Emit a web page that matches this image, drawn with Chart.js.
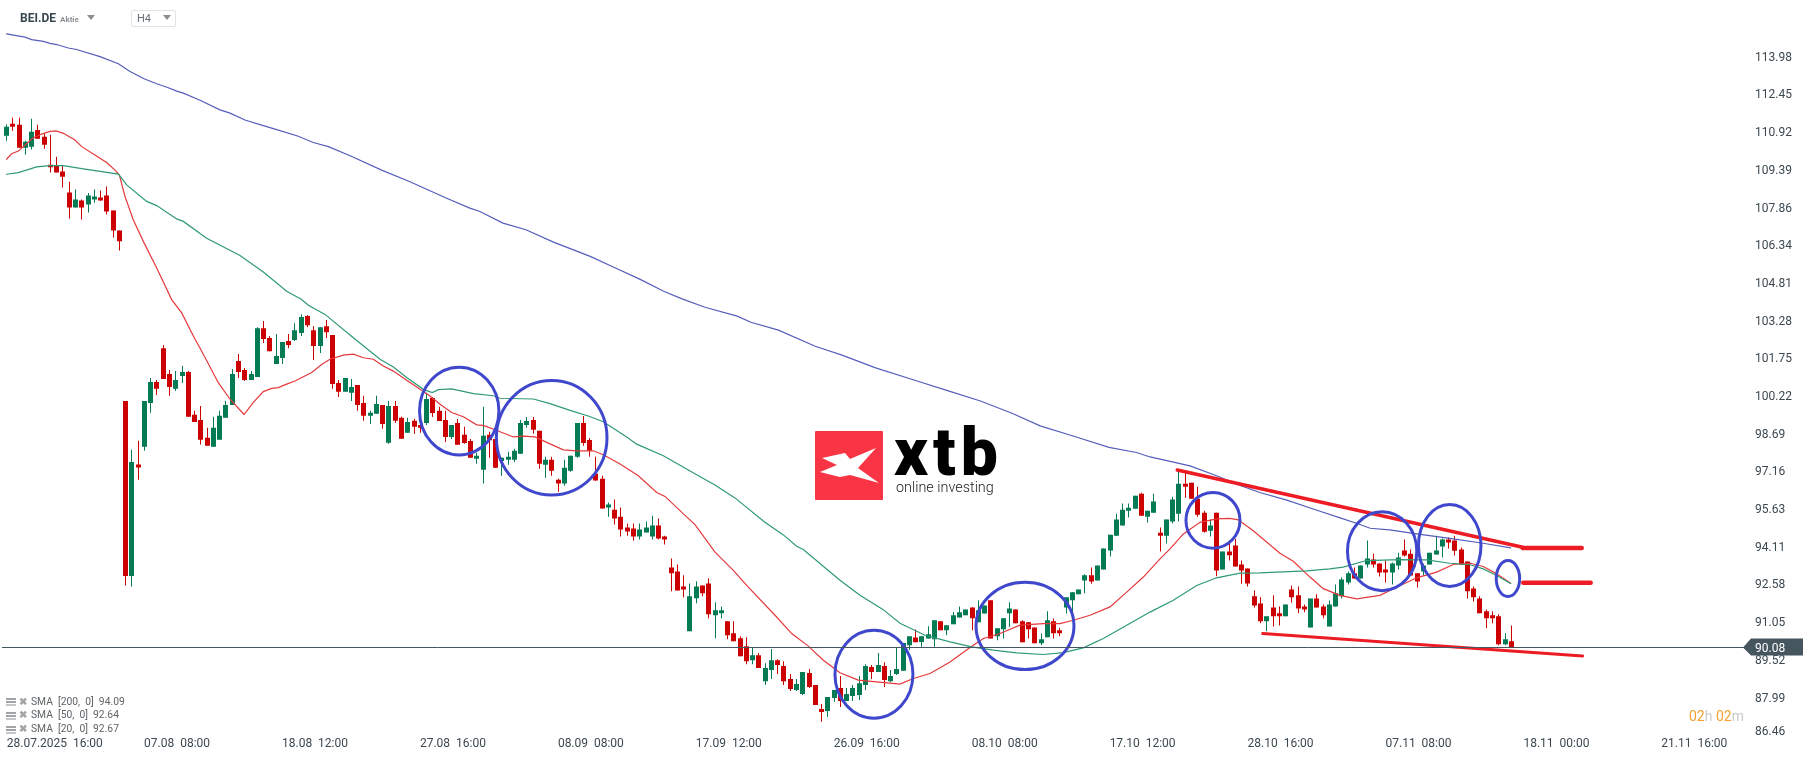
<!DOCTYPE html>
<html>
<head>
<meta charset="utf-8">
<title>BEI.DE H4</title>
<script src="https://cdn.jsdelivr.net/npm/chart.js@4/dist/chart.umd.min.js"></script>
<style>
    html, body { margin: 0; padding: 0; background: #fff; }
    #wrap { position: relative; width: 1815px; height: 761px; overflow: hidden; font-family: Roboto, sans-serif; }
    #wrap div, #wrap span { position: absolute; white-space: nowrap; }
    canvas { position: absolute; left: 0; top: 0; }
    .tri { width: 0; height: 0; border-left: 4.5px solid transparent; border-right: 4.5px solid transparent; border-top: 5px solid #8a8f93; }
    .sma { left: 31px; font-size: 10.3px; line-height: 12px; color: #5f6468; white-space: pre !important; }
    .ico { left: 6px; width: 10px; height: 2px; background: #a2a5a8; box-shadow: 0 3px 0 #a2a5a8, 0 6px 0 #c4c6c8; }
    .del { left: 19px; font-size: 10px; line-height: 12px; color: #a2a5a8; font-weight: 700; }
</style>
</head>
<body>
<div id="wrap">
    <canvas id="chart" width="1815" height="761"></canvas>

    <div style="left:20px;top:11px;font-size:12px;line-height:15px;font-weight:700;color:#37474f">BEI.DE</div>
    <div style="left:60px;top:14px;font-size:8px;line-height:11px;font-weight:700;color:#8b9094">Aktie</div>
    <div class="tri" style="left:87px;top:15px"></div>
    <div style="left:131px;top:10px;width:43px;height:15px;border:1px solid #e2e3e5;border-radius:2px"></div>
    <div style="left:137px;top:12px;font-size:11px;line-height:14px;color:#6a7075">H4</div>
    <div class="tri" style="left:163px;top:15px"></div>

    <div style="left:815px;top:431px;width:68px;height:69px;background:#f93444;border-radius:1px"></div>
    <svg style="position:absolute;left:815px;top:431px" width="68" height="69" viewBox="0 0 68 69">
        <polygon fill="#fff" points="7,27 30,22 35,28 61,17 43,37 64,52 35,44 25,46 5,41 22,34"/>
    </svg>
    <div style="left:894px;top:418px;font-size:66px;line-height:70px;font-weight:900;color:#000;letter-spacing:5px">xtb</div>
    <div style="left:896px;top:479px;font-size:14.4px;line-height:18px;font-weight:300;color:#222">online investing</div>

    <div class="ico" style="top:698px"></div><div class="del" style="top:696px">✖</div>
    <div class="sma" style="top:696px">SMA  [200,  0]  94.09</div>
    <div class="ico" style="top:712px"></div><div class="del" style="top:709px">✖</div>
    <div class="sma" style="top:709px">SMA  [50,  0]  92.64</div>
    <div class="ico" style="top:726px"></div><div class="del" style="top:723px">✖</div>
    <div class="sma" style="top:723px">SMA  [20,  0]  92.67</div>

    <div style="left:1689px;top:708px;font-size:14px;line-height:17px;color:#c8cacc"><span style="position:static;color:#f7a02c">02</span>h <span style="position:static;color:#f7a02c">02</span>m</div>
</div>

<script>
// candle values
const opens = [
    110.81,111.30,111.26,110.33,110.37,111.05,110.77,109.64,109.60,109.36,
    108.51,107.90,108.19,108.02,108.23,108.31,108.39,107.78,106.97,100.06,
    92.96,97.48,98.20,99.98,100.83,102.20,101.15,100.55,101.07,101.23,
    99.50,99.29,98.57,98.20,98.49,99.38,99.90,101.68,101.32,100.91,
    101.03,103.01,102.61,101.56,101.80,102.49,102.53,102.81,103.50,102.93,
    102.29,103.09,102.73,100.79,100.43,100.39,100.71,99.98,99.46,99.54,
    99.90,98.37,99.86,99.38,98.77,99.26,99.09,99.17,100.18,99.66,
    99.29,98.60,99.17,98.69,98.44,97.72,97.27,98.69,98.52,97.63,
    97.68,97.68,97.92,99.09,99.29,98.85,97.47,97.68,96.87,96.71,
    97.23,97.80,99.17,98.48,97.11,96.91,95.74,95.65,95.37,94.93,
    94.89,94.56,94.73,94.56,95.01,94.56,93.31,93.15,92.54,90.72,
    92.06,92.58,92.66,91.37,91.45,91.13,90.64,90.44,90.12,89.55,
    89.75,88.70,89.15,89.55,89.31,88.79,88.34,88.18,89.03,88.54,
    87.57,87.49,88.02,88.42,87.90,88.10,88.14,88.54,89.27,89.07,
    89.31,88.70,88.99,89.12,90.16,90.47,90.29,90.43,90.40,91.13,
    90.76,91.01,91.28,91.37,91.69,91.09,91.44,91.98,90.52,90.80,
    91.45,91.61,91.13,91.09,90.88,90.24,90.48,91.13,90.76,91.69,
    91.98,92.22,92.78,92.99,92.78,93.23,94.00,94.60,95.01,95.61,
    95.69,96.30,95.37,95.53,94.72,94.60,95.17,95.49,96.70,96.74,
    96.10,95.53,94.80,95.53,93.23,93.96,94.20,93.43,93.27,92.14,
    91.85,91.13,91.69,91.45,91.33,92.42,92.18,91.73,90.88,92.05,
    91.73,90.92,91.73,92.14,92.70,93.07,92.86,93.43,93.63,93.47,
    93.23,93.11,93.39,94.00,93.87,93.07,93.15,93.43,93.83,94.16,
    94.44,94.40,94.04,93.55,92.46,92.05,91.53,91.37,91.33,90.20,90.32
];
const closes = [
    111.18,111.18,110.33,110.57,110.97,110.69,110.45,109.53,109.32,109.15,
    107.90,108.23,107.90,108.39,108.35,108.19,107.74,106.97,106.53,92.96,
    97.59,97.36,100.06,100.83,100.55,100.95,100.63,100.91,101.23,99.42,
    99.21,98.49,98.24,98.97,99.46,99.90,101.15,101.23,100.91,101.15,
    103.01,102.57,102.08,101.88,102.45,102.33,102.93,103.46,103.13,102.29,
    103.05,102.85,100.75,100.43,100.99,100.63,99.90,99.46,99.58,99.94,
    99.13,99.86,99.26,98.53,99.21,99.01,98.97,100.14,99.57,99.25,
    98.60,99.09,98.28,98.36,97.76,97.84,98.65,98.47,97.35,97.76,
    97.80,98.04,99.17,99.25,98.89,97.51,97.68,97.23,96.71,97.35,
    97.84,99.17,98.36,98.04,96.83,95.70,95.86,95.29,94.85,94.77,
    94.56,94.85,94.93,95.01,94.48,94.44,93.07,92.38,92.42,92.14,
    92.54,92.26,91.41,91.57,91.57,90.56,90.32,89.71,89.51,89.75,
    89.23,89.23,89.55,89.35,88.70,88.38,88.58,89.07,88.46,87.73,
    87.45,88.06,88.34,87.90,88.18,88.42,88.62,89.31,89.07,89.35,
    88.75,88.91,89.19,90.25,90.52,90.28,90.52,90.60,91.17,90.76,
    90.97,91.37,91.49,91.61,91.25,91.57,91.77,90.43,90.84,91.25,
    91.65,91.05,90.28,90.80,90.24,90.40,91.17,90.64,90.64,92.10,
    92.30,92.42,92.99,92.74,93.39,94.08,94.64,95.25,95.65,95.73,
    96.22,95.41,95.61,95.98,94.60,95.25,96.06,96.70,96.58,96.10,
    95.45,94.76,95.01,93.19,93.96,93.80,93.35,93.19,92.66,91.77,
    91.13,91.33,91.33,91.33,91.81,92.10,91.65,91.61,92.05,91.69,
    91.37,91.81,92.26,92.82,93.07,92.86,93.39,93.67,93.43,93.11,
    93.11,93.47,93.71,93.79,92.98,92.74,93.39,93.91,94.00,94.44,
    94.32,93.99,93.43,92.34,92.10,91.45,91.25,91.25,90.20,90.40,90.08
];
const highs = [
    111.28,111.54,111.54,110.61,111.50,111.26,110.91,110.85,109.96,109.60,
    108.95,108.63,108.23,108.49,108.63,108.59,108.75,107.78,106.97,100.06,
    98.08,98.45,100.06,100.99,100.91,102.33,101.32,101.27,101.48,101.27,
    99.66,99.86,98.97,99.42,99.66,100.06,101.36,101.96,101.40,101.27,
    103.05,103.30,102.69,102.77,102.45,102.77,103.21,103.58,103.54,103.09,
    103.05,103.34,102.73,100.91,100.99,100.95,100.71,100.27,99.66,100.27,
    99.90,100.06,100.06,99.42,99.38,99.34,99.34,100.39,100.22,99.82,
    99.66,99.09,99.33,99.01,98.52,97.96,99.82,98.81,98.52,97.76,
    98.00,98.12,99.29,99.41,99.41,98.85,97.80,97.80,96.91,97.68,
    97.84,99.17,99.45,98.56,97.80,97.03,95.94,96.06,95.74,95.09,
    95.09,95.09,95.17,95.41,95.29,94.60,93.67,93.43,92.99,92.66,
    92.75,92.58,92.87,91.90,91.73,91.13,91.13,90.52,90.48,90.04,
    89.84,89.43,90.00,89.59,89.51,88.99,88.79,89.07,89.19,88.54,
    87.77,88.06,88.34,88.91,88.42,88.54,88.91,89.39,89.35,89.84,
    89.47,89.15,90.04,90.25,90.52,90.79,90.52,90.93,91.17,91.13,
    90.97,91.50,91.73,91.61,91.69,91.98,91.77,91.98,90.84,91.25,
    91.90,91.61,91.17,91.09,90.88,90.63,91.53,91.24,90.87,92.10,
    92.30,92.42,93.03,93.31,93.39,94.08,94.64,95.49,95.90,95.90,
    96.22,96.34,95.61,96.30,94.93,95.25,96.18,97.27,97.15,96.74,
    96.58,95.61,95.25,95.53,93.96,94.40,94.47,93.59,93.27,92.38,
    92.10,91.33,92.18,91.73,91.81,92.58,92.54,91.81,92.05,92.22,
    91.81,91.97,92.62,92.90,93.15,93.31,93.39,94.40,93.87,93.47,
    93.59,93.51,93.91,94.44,94.04,93.07,93.46,93.91,94.60,94.48,
    94.52,94.60,94.12,93.55,92.54,92.14,91.61,91.53,91.41,90.64,90.96
];
const lows = [
    110.61,111.01,110.33,110.04,110.25,110.69,110.29,109.32,109.32,108.71,
    107.46,107.90,107.42,107.70,108.10,108.19,107.62,106.69,106.16,92.58,
    92.54,96.87,98.04,99.58,100.30,100.95,100.27,100.47,100.79,99.42,
    99.21,98.29,98.24,98.20,98.49,99.38,99.90,100.99,100.87,100.91,
    101.03,102.41,102.08,101.56,101.56,102.20,102.49,102.69,103.05,101.72,
    102.00,102.61,100.55,100.22,100.43,100.06,99.66,99.26,99.13,99.54,
    98.93,98.33,99.17,98.53,98.77,98.73,98.77,99.09,99.41,99.25,
    98.40,98.52,98.28,98.32,97.76,97.51,96.71,97.76,97.35,97.03,
    97.47,97.59,97.92,98.97,98.73,97.31,96.95,97.03,96.38,96.62,
    97.19,97.76,98.24,97.80,96.83,95.70,95.37,95.05,94.56,94.60,
    94.40,94.44,94.73,94.44,94.44,94.24,92.34,92.38,92.10,90.72,
    91.86,92.14,91.25,90.44,91.25,90.40,90.32,89.71,89.39,89.39,
    89.23,88.54,88.79,88.99,88.54,88.30,88.30,88.14,88.42,87.73,
    87.05,87.25,87.86,87.65,87.90,87.90,87.94,88.34,88.79,89.07,
    88.46,88.66,88.95,89.12,89.96,90.28,90.09,90.43,90.09,90.76,
    90.56,91.01,91.28,91.37,90.76,91.09,91.44,90.43,90.36,90.43,
    90.90,91.05,90.28,90.43,90.24,90.16,90.48,90.43,90.52,91.44,
    91.17,92.22,92.26,92.65,92.78,93.23,93.75,94.60,95.01,95.33,
    95.69,95.41,95.13,95.53,93.96,94.28,95.09,95.17,96.14,96.10,
    95.37,94.72,94.56,92.95,93.23,93.59,93.35,92.65,92.54,91.69,
    91.05,90.72,90.92,90.96,91.33,91.89,91.45,91.49,90.88,91.69,
    91.25,90.92,91.73,92.05,92.62,92.86,92.86,93.31,93.31,92.94,
    92.70,92.62,93.23,93.75,92.98,92.50,92.98,93.43,93.83,93.71,
    94.08,93.79,93.43,92.05,91.93,91.45,90.84,91.05,90.16,90.16,90.08
];

// moving averages: candle number and price at each bend of the line
const sma200X = [0,2.95,4.01,5.87,6.94,8,9.86,11.19,14.91,17.84,19.7,21.93,23.95,25.81,27.14,28.2,30.86,34.05,35.65,38.03,40.96,43.09,46.54,48.93,51.33,54.8,59.83,64.35,70.2,73.9,75.5,79.18,82.84,87.24,93.09,97.12,101.15,104.81,107.74,111.4,116.53,118.72,123.12,128.98,133.37,138.5,144.35,150.21,155.34,160.46,164.86,169.98,175.84,180.23,182.4,188.75,193,196.2,199.9,204.2,208.4,212.7,215.3,217.5,220.6,224.9,230.2,235.5,239.9];
const sma200Y = [114.94,114.81,114.71,114.64,114.56,114.51,114.37,114.31,114.02,113.73,113.42,113.12,112.92,112.76,112.62,112.54,112.25,111.86,111.73,111.45,111.22,111.06,110.79,110.54,110.37,110.00,109.42,108.95,108.28,107.88,107.74,107.27,107.00,106.50,105.92,105.45,104.98,104.51,104.20,103.86,103.50,103.25,102.93,102.28,101.91,101.41,100.94,100.47,100.06,99.55,99.05,98.65,98.18,97.97,97.79,97.43,97.03,96.69,96.35,96.04,95.68,95.32,95.10,94.90,94.83,94.67,94.49,94.29,94.10];
const sma50X = [0,1.89,4.81,6.94,9.06,12.25,17.84,19.17,22.36,23.95,27.14,28.2,31.92,37.24,40.96,44.68,47.07,48.14,50.8,55.32,59.57,61.7,63.82,66.48,67.91,68.87,71,74.46,77.64,78.71,84.03,86.69,89.87,92.79,95.19,98.91,100.51,104.76,110.07,112.99,116.18,120.96,123.9,126.02,127.08,132.93,136.12,139.84,142.5,146.5,150.48,153.93,157.39,161.1,165.36,168.55,171.74,174.93,178.66,182.38,186.1,189.82,193,196.73,199.9,207.33,211.05,213.18,216.9,222.2,226.5,230.2,233.41,235.53,237.66,239.9];
const sma50Y = [109.25,109.32,109.55,109.60,109.60,109.47,109.26,108.82,108.15,107.98,107.44,107.34,106.66,105.96,105.29,104.51,104.17,103.94,103.57,102.62,101.75,101.44,101.01,100.53,100.40,100.52,100.55,100.36,100.27,100.17,100.14,99.95,99.68,99.45,99.22,98.60,98.31,97.84,97.07,96.65,96.13,95.14,94.63,94.17,94.04,92.79,92.18,91.60,91.05,90.56,90.29,90.09,89.96,89.85,89.78,89.86,90.05,90.43,90.97,91.50,91.98,92.58,92.89,93.08,93.09,93.17,93.25,93.32,93.59,93.63,93.62,93.48,93.42,93.25,92.98,92.66];
const sma20X = [0,0.82,1.89,2.95,4.28,5.61,6.94,7.89,9.06,10.93,11.99,13.85,15.97,17.31,18,18.9,20.23,21.82,23.95,26.34,27.94,29.8,31.39,33.78,35.65,37.88,39.37,40.96,42.29,43.35,44.68,46.01,48.67,50.26,51.59,53.72,55.32,56.91,58.5,60.1,61.7,63.82,65.95,67.54,69.14,71,72.86,74.99,76.05,78.71,80.84,82.43,84.29,86.15,88.81,90.94,93.59,95.19,97.85,100.77,103.7,105.03,107.95,109.81,113,115.92,118.05,122.83,125.23,127.88,130.28,132.93,135.85,142.5,144.63,147.29,150.48,153.67,155.8,158.45,161.64,165.36,168.02,170.15,172.81,176,178.66,181.32,183.98,185.57,187.7,190.35,193,195.13,196.46,198.85,203.1,205.23,207.89,210.02,212.67,215.33,219.05,221.71,224.9,228.09,230.75,233.41,235.53,237.66,239.9];
const sma20Y = [109.86,110.08,110.19,110.43,110.73,110.88,110.99,111.01,110.91,110.64,110.37,110.07,109.73,109.42,109.22,108.35,107.40,106.53,105.45,104.17,103.63,102.69,101.95,100.80,100.13,99.51,100.00,100.44,100.57,100.60,100.74,100.87,101.21,101.54,101.75,101.92,101.96,101.81,101.75,101.48,101.27,100.90,100.53,100.26,99.93,99.59,99.42,99.09,99.07,98.81,98.60,98.63,98.60,98.38,98.08,98.04,98.04,97.88,97.50,97.03,96.35,96.19,95.48,95.05,93.93,93.19,92.58,91.30,90.63,90.12,89.55,89.04,88.74,88.58,88.81,89.01,89.48,90.06,90.43,90.63,90.97,91.03,91.03,91.17,91.37,91.71,92.31,92.92,93.66,94.06,94.67,95.14,95.28,95.30,95.24,94.80,93.89,93.56,92.92,92.45,92.18,92.04,92.18,92.51,92.89,93.12,93.43,93.48,93.35,93.05,92.67];

// hand drawn red trend lines, in candle number and price
const upperTrendX = [186.73, 241.82];
const upperTrendY = [97.26, 94.13];
const lowerTrendX = [200.35, 251.39];
const lowerTrendY = [90.63, 89.72];
const level1X = [241.82, 251.23];
const level1Y = [94.10, 94.10];
const level2X = [241.91, 252.66];
const level2Y = [92.69, 92.69];

// hand drawn blue rings: centre and half size, in candle number and price
const ringX = [72.2, 86.95, 138.35, 162.44, 192.42, 219.4, 230.18, 239.47];
const ringY = [99.65, 98.57, 88.98, 90.94, 95.22, 93.97, 94.20, 92.86];
const ringHalfX = [6.33, 8.82, 6.22, 7.81, 4.31, 5.53, 4.99, 1.87];
const ringHalfY = [1.78, 2.32, 1.78, 1.77, 1.13, 1.60, 1.66, 0.73];

const lastPrice = 90.08;
const priceTicks = [113.98,112.45,110.92,109.39,107.86,106.34,104.81,103.28,101.75,100.22,98.69,97.16,95.63,94.11,92.58,91.05,89.52,87.99,86.46];
const timeTickX = [7.7,27.2,49.2,71.2,93.2,115.2,137.2,159.2,181.2,203.2,225.2,247.2,269.2];
const timeTickLabels = ['28.07.2025  16:00','07.08  08:00','18.08  12:00','27.08  16:00','08.09  08:00','17.09  12:00','26.09  16:00','08.10  08:00','17.10  12:00','28.10  16:00','07.11  08:00','18.11  00:00','21.11  16:00'];

const RED = '#cc0000';
const GREEN = '#047a55';
const PAINT_RED = '#ed1c24';
const PAINT_BLUE = '#3f48cc';
const TEXT = '#3c4850';

const pairs = (xs, ys) => xs.map((x, i) => ({ x: x, y: ys[i] }));
const candleColors = closes.map((c, i) => (c >= opens[i] ? GREEN : RED));

function lineSet(xs, ys, color, width, order) {
    return {
        type: 'line',
        data: pairs(xs, ys),
        borderColor: color,
        borderWidth: width,
        borderCapStyle: 'round',
        pointRadius: 0,
        tension: 0,
        order: order
    };
}

// the bars come out on half pixels otherwise, and the wicks go blurry
const snapBars = {
    id: 'snapBars',
    afterDatasetsUpdate(chart) {
        chart.getSortedVisibleDatasetMetas().forEach(meta => {
            if (meta.type !== 'bar') return;
            meta.data.forEach(bar => { bar.x = Math.floor(bar.x) + 0.5; });
        });
    }
};

// rings and the last price flag
const markings = {
    id: 'markings',
    afterDatasetsDraw(chart) {
        const { ctx, scales: { x, y } } = chart;
        ctx.save();
        ctx.strokeStyle = PAINT_BLUE;
        ctx.lineWidth = 3;
        ringX.forEach((cx, i) => {
            const rx = Math.abs(x.getPixelForValue(cx + ringHalfX[i]) - x.getPixelForValue(cx));
            const ry = Math.abs(y.getPixelForValue(ringY[i] + ringHalfY[i]) - y.getPixelForValue(ringY[i]));
            ctx.beginPath();
            ctx.ellipse(x.getPixelForValue(cx), y.getPixelForValue(ringY[i]), rx, ry, 0, 0, Math.PI * 2);
            ctx.stroke();
        });

        const py = Math.round(y.getPixelForValue(lastPrice)) + 0.5;
        ctx.strokeStyle = '#46565f';
        ctx.lineWidth = 1;
        ctx.beginPath();
        ctx.moveTo(2, py);
        ctx.lineTo(1744, py);
        ctx.stroke();
        ctx.fillStyle = '#46565f';
        ctx.beginPath();
        ctx.moveTo(1743, py);
        ctx.lineTo(1751, py - 9);
        ctx.lineTo(1803, py - 9);
        ctx.lineTo(1803, py + 8);
        ctx.lineTo(1751, py + 8);
        ctx.closePath();
        ctx.fill();
        ctx.fillStyle = '#fff';
        ctx.font = '12px Roboto';
        ctx.textAlign = 'left';
        ctx.textBaseline = 'middle';
        ctx.fillText(lastPrice.toFixed(2), 1755, py + 1);
        ctx.restore();
    }
};

new Chart(document.getElementById('chart').getContext('2d'), {
    type: 'bar',
    data: {
        datasets: [
            lineSet(level1X, level1Y, PAINT_RED, 4.5, 0),
            lineSet(level2X, level2Y, PAINT_RED, 4.5, 0),
            lineSet(upperTrendX, upperTrendY, PAINT_RED, 3.5, 0),
            lineSet(lowerTrendX, lowerTrendY, PAINT_RED, 3, 0),
            lineSet(sma200X, sma200Y, '#555ebb', 1.2, 1),
            lineSet(sma50X, sma50Y, '#2f9a75', 1.2, 1),
            lineSet(sma20X, sma20Y, '#e5393c', 1.2, 1),
            {
                // body
                data: opens.map((o, i) => ({ x: i, y: [o, closes[i]] })),
                backgroundColor: candleColors,
                grouped: false,
                categoryPercentage: 1,
                barPercentage: 0.8,
                maxBarThickness: 5,
                order: 2
            },
            {
                // wick
                data: lows.map((l, i) => ({ x: i, y: [l, highs[i]] })),
                backgroundColor: candleColors,
                grouped: false,
                categoryPercentage: 1,
                barPercentage: 0.8,
                maxBarThickness: 1,
                order: 3
            }
        ]
    },
    plugins: [snapBars, markings],
    options: {
        responsive: false,
        animation: false,
        devicePixelRatio: 1,
        layout: { autoPadding: false },
        plugins: { legend: { display: false }, tooltip: { enabled: false } },
        scales: {
            x: {
                type: 'linear',
                offset: false,
                bounds: 'data',
                min: -1.04,
                max: 276.16,
                grid: { display: false, drawTicks: false },
                border: { display: false },
                ticks: {
                    color: TEXT,
                    font: { family: 'Roboto', size: 12 },
                    padding: 0,
                    autoSkip: false,
                    maxRotation: 0,
                    callback: (value, i) => timeTickLabels[i]
                },
                afterBuildTicks(scale) { scale.ticks = timeTickX.map(v => ({ value: v })); },
                afterFit(scale) { scale.height = 23; }
            },
            y: {
                position: 'right',
                bounds: 'data',
                // the layout keeps about 24px above the plot and below it
                min: 86.444,
                max: 115.247,
                beginAtZero: false,
                grid: { display: false, drawTicks: false },
                border: { display: false },
                ticks: {
                    color: TEXT,
                    // the lowest label is pushed up off the time axis
                    font: ctx => ({
                        family: 'Roboto',
                        size: 12,
                        lineHeight: ctx.index === priceTicks.length - 1 ? 0.78 : 1.2
                    }),
                    padding: 17,
                    crossAlign: 'near',
                    callback: (value, i) => (i === priceTicks.length - 1 ? [value.toFixed(2), ''] : value.toFixed(2))
                },
                afterBuildTicks(scale) { scale.ticks = priceTicks.map(v => ({ value: v })); },
                afterFit(scale) { scale.width = 77; }
            }
        }
    }
});
</script>
</body>
</html>
